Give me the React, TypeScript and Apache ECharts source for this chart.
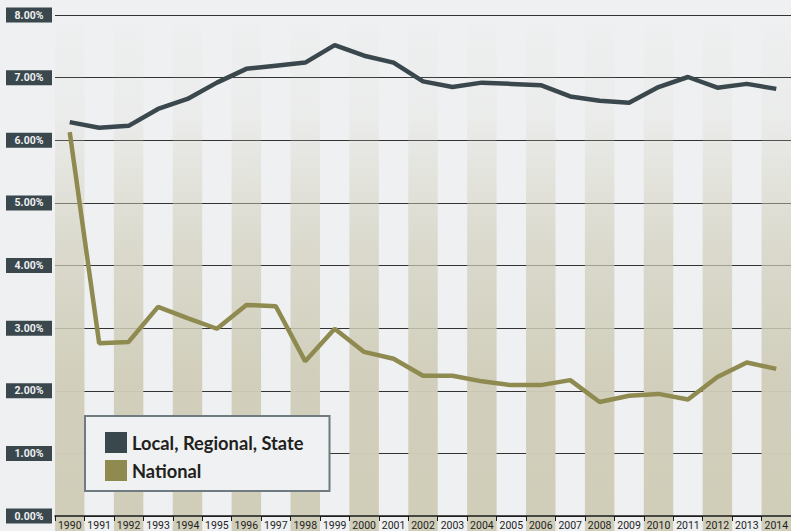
import React, { useEffect, useRef } from "react";
import * as echarts from "echarts";

const years = [
  "1990", "1991", "1992", "1993", "1994", "1995", "1996", "1997", "1998", "1999",
  "2000", "2001", "2002", "2003", "2004", "2005", "2006", "2007", "2008", "2009",
  "2010", "2011", "2012", "2013", "2014",
];

const localRegionalState = [
  6.29, 6.2, 6.23, 6.5, 6.66, 6.92, 7.14, 7.19, 7.24, 7.52,
  7.35, 7.24, 6.94, 6.85, 6.92, 6.9, 6.88, 6.7, 6.63, 6.6,
  6.85, 7.01, 6.84, 6.9, 6.82,
];

const national = [
  6.13, 2.76, 2.78, 3.34, 3.16, 2.99, 3.37, 3.35, 2.47, 2.99,
  2.62, 2.51, 2.24, 2.24, 2.15, 2.09, 2.09, 2.17, 1.82, 1.92,
  1.95, 1.86, 2.22, 2.45, 2.35,
];

const yMin = 0;
const yMax = 8;
const yInterval = 1;

const seriesNames = ["Local, Regional, State", "National"];

// alternate-year shaded bands (every other category, starting at 1990)
const bandYears = years.filter((_, i) => i % 2 === 0);

export default function App() {
  const ref = useRef<HTMLDivElement>(null);

  useEffect(() => {
    if (!ref.current) return;
    const chart = echarts.init(ref.current, undefined, { renderer: "svg" });

    const bandFill = {
      type: "linear",
      x: 0,
      y: 0,
      x2: 0,
      y2: 1,
      colorStops: [
        { offset: 0, color: "rgba(208,205,185,0)" },
        { offset: 0.2, color: "rgba(208,205,185,0.12)" },
        { offset: 0.45, color: "rgba(208,205,185,0.65)" },
        { offset: 0.7, color: "rgba(208,205,185,0.95)" },
        { offset: 1, color: "rgba(208,205,185,1)" },
      ],
    };

    chart.setOption({
      animation: false,
      backgroundColor: "#eef0f1",
      grid: { left: 55, right: -4.6, top: 15, bottom: 14.3, containLabel: false },
      legend: {
        data: seriesNames.map((n) => ({ name: n, icon: "rect" })),
        orient: "vertical",
        left: 85,
        top: 416,
        itemWidth: 22,
        itemHeight: 21,
        itemGap: 7,
        padding: [16, 26, 10, 20],
        backgroundColor: "#eff1f2",
        borderColor: "#6f7b80",
        borderWidth: 2,
        selectedMode: false,
        textStyle: {
          fontFamily: "Lato, 'Noto Sans', sans-serif",
          fontWeight: "bold",
          fontSize: 18.3,
          color: "#231f20",
        },
      },
      xAxis: {
        type: "category",
        data: years,
        boundaryGap: true,
        axisLine: { show: true, lineStyle: { color: "#1a1a1a", width: 1.5 } },
        axisTick: { show: true, length: 5, lineStyle: { color: "#1a1a1a", width: 1 } },
        axisLabel: {
          margin: 4,
          fontFamily: "Roboto, sans-serif",
          fontSize: 10.5,
          color: "#1e1e1e",
          interval: 0,
        },
        splitLine: { show: false },
        z: 5,
      },
      yAxis: {
        type: "value",
        min: yMin,
        max: yMax,
        interval: yInterval,
        axisLine: { show: false },
        axisTick: { show: false },
        axisLabel: {
          formatter: (v: number) => v.toFixed(2) + "%",
          margin: 26,
          align: "center",
          width: 46,
          backgroundColor: "#3a474d",
          color: "#eef1f2",
          fontFamily: "Roboto, sans-serif",
          fontWeight: "bold",
          fontSize: 10.5,
          lineHeight: 11,
          padding: [2, 0, 2, 0],
        },
        splitLine: { show: true, lineStyle: { color: "#333", width: 1 } },
      },
      series: [
        {
          name: "bands",
          type: "custom",
          data: bandYears.map((y) => [y, yMax]),
          encode: { x: 0, y: 1 },
          z: 0,
          silent: true,
          renderItem: (params: any, api: any) => {
            const top = api.coord([api.value(0), api.value(1)]);
            const w = api.size([1, 0])[0];
            return {
              type: "rect",
              shape: { x: top[0] - w / 2, y: top[1], width: w, height: api.getHeight() - top[1] },
              style: { fill: bandFill },
            };
          },
        },
        {
          name: seriesNames[0],
          type: "line",
          data: localRegionalState,
          symbol: "none",
          lineStyle: { color: "#3a474d", width: 4.5 },
          itemStyle: { color: "#3a474d" },
          z: 3,
        },
        {
          name: seriesNames[1],
          type: "line",
          data: national,
          symbol: "none",
          lineStyle: { color: "#8f8a50", width: 4.5 },
          itemStyle: { color: "#8f8a50" },
          z: 3,
        },
      ],
    });

    return () => chart.dispose();
  }, []);

  return (
    <div
      ref={ref}
      style={{ position: "fixed", left: 0, top: 0, width: 791, height: 531 }}
    />
  );
}
